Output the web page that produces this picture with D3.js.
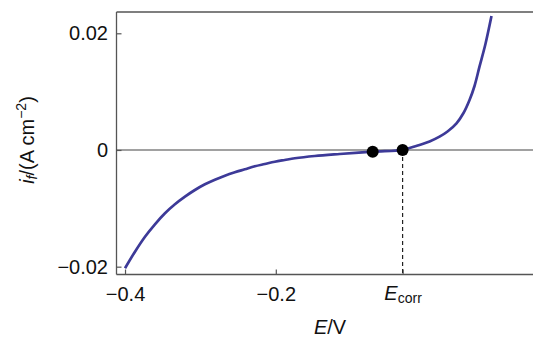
<!DOCTYPE html>
<html><head><meta charset="utf-8">
<script src="https://cdn.jsdelivr.net/npm/d3@7"></script>
<style>
html,body{margin:0;padding:0;background:#fff;}
svg{display:block;font-family:"Liberation Sans",Arial,Helvetica,sans-serif;}
</style></head>
<body>
<svg id="chart" width="533" height="339"></svg>
<script>
// Data
const potentials = [-0.4000,-0.3868,-0.3735,-0.3603,-0.3470,-0.3338,-0.3205,-0.3073,-0.2940,-0.2808,-0.2675,-0.2543,-0.2411,-0.2278,-0.2146,-0.2013,-0.1881,-0.1748,-0.1483,-0.1152,-0.0715,-0.0318,-0.0225,-0.0093,0.0040,0.0172,0.0278,0.0397,0.0490,0.0570,0.0636,0.0702,0.0781,0.0861];
const currents   = [-0.02027,-0.01743,-0.01486,-0.01273,-0.01085,-0.00931,-0.00800,-0.00686,-0.00588,-0.00509,-0.00440,-0.00382,-0.00331,-0.00279,-0.00240,-0.00201,-0.00171,-0.00142,-0.00103,-0.00069,-0.00029,0.0,0.00034,0.00086,0.00146,0.00228,0.00317,0.00458,0.00634,0.00857,0.01097,0.01428,0.01817,0.02296];
const markerE = [-0.0715, -0.0318];
const markerI = [-0.00029, 0.0];
const eCorr = -0.0318;
const xTickValues = [-0.4, -0.2];
const xTickLabels = ["\u22120.4", "\u22120.2"];
const yTickValues = [-0.02, 0, 0.02];
const yTickLabels = ["\u22120.02", "0", "0.02"];

(function () {
const svg = d3.select("#chart");
const pl = 116.5, pr = 534, pt = 12, pb = 274.5;
const x = d3.scaleLinear().domain([-0.4113, 0.1425]).range([pl, pr]);
const y = d3.scaleLinear().domain([-0.02134, 0.02365]).range([pb, pt]);
const axisColor = "#555";
const fontSize = 20;
const subSize = 14;
const ff = '"Liberation Sans",Arial,sans-serif';

// frame lines (left, top)
svg.append("line").attr("x1", pl).attr("x2", pl).attr("y1", pt).attr("y2", pb)
  .attr("stroke", axisColor).attr("stroke-width", 1.3);
svg.append("line").attr("x1", pl).attr("x2", pr).attr("y1", pt).attr("y2", pt)
  .attr("stroke", axisColor).attr("stroke-width", 1.3);

// zero line
svg.append("line").attr("x1", pl).attr("x2", pr).attr("y1", y(0)).attr("y2", y(0))
  .attr("stroke", "#444").attr("stroke-width", 1.2);

// y axis
const yAxis = d3.axisLeft(y).tickValues(yTickValues)
  .tickFormat((d, i) => yTickLabels[i]).tickSize(-5).tickPadding(8.5);
const gy = svg.append("g").attr("transform", `translate(${pl},0)`).call(yAxis);
gy.select(".domain").remove();
gy.selectAll("line").attr("stroke", axisColor).attr("stroke-width", 1.2);
gy.selectAll("text").attr("font-size", fontSize).attr("fill", "#111").attr("font-family", ff);

// x axis
const xAxis = d3.axisBottom(x).tickValues(xTickValues.concat([eCorr]))
  .tickFormat((d, i) => i < xTickLabels.length ? xTickLabels[i] : "").tickSize(-5).tickPadding(12);
const gx = svg.append("g").attr("transform", `translate(0,${pb})`).call(xAxis);
gx.select(".domain").attr("d", `M${pl},0H${pr}`).attr("stroke", axisColor).attr("stroke-width", 1.3);
gx.selectAll("line").attr("stroke", axisColor).attr("stroke-width", 1.2);
gx.selectAll("text").attr("font-size", fontSize).attr("fill", "#111").attr("font-family", ff);

// Ecorr label
const ec = svg.append("text").attr("x", x(eCorr) + 0.5).attr("y", 300).attr("text-anchor", "middle")
  .attr("font-size", fontSize).attr("fill", "#111");
ec.append("tspan").attr("font-style", "italic").text("E");
ec.append("tspan").attr("font-size", subSize).attr("dy", 3).text("corr");

// dashed line at Ecorr
svg.append("line").attr("x1", x(eCorr)).attr("x2", x(eCorr)).attr("y1", y(0)).attr("y2", pb)
  .attr("stroke", "#222").attr("stroke-width", 1.2).attr("stroke-dasharray", "4,3");

// curve
const pts = potentials.map((e, i) => [e, currents[i]]);
const line = d3.line().x(d => x(d[0])).y(d => y(d[1])).curve(d3.curveCatmullRom.alpha(0.5));
svg.append("path").datum(pts).attr("d", line).attr("fill", "none")
  .attr("stroke", "#3d3a98").attr("stroke-width", 2.7).attr("stroke-linecap", "butt");

// markers
svg.selectAll("circle.m").data(markerE).enter().append("circle").attr("class", "m")
  .attr("cx", d => x(d)).attr("cy", (d, i) => y(markerI[i])).attr("r", 6).attr("fill", "#000");

// x axis title
const xt = svg.append("text").attr("x", 330).attr("y", 333.5).attr("text-anchor", "middle")
  .attr("font-size", fontSize).attr("fill", "#111");
xt.append("tspan").attr("font-style", "italic").text("E");
xt.append("tspan").text("/V");

// y axis title
const yt = svg.append("text").attr("transform", "translate(33.5,140) rotate(-90)")
  .attr("text-anchor", "middle").attr("font-size", fontSize).attr("fill", "#111");
yt.append("tspan").attr("font-style", "italic").text("i");
yt.append("tspan").attr("font-style", "italic").attr("font-size", subSize).attr("dy", 3).text("f");
yt.append("tspan").attr("dy", -3).text("/(A cm");
yt.append("tspan").attr("font-size", subSize).attr("dy", -8).text("\u22122");
yt.append("tspan").attr("dy", 8).text(")");
})();
</script>
</body></html>
